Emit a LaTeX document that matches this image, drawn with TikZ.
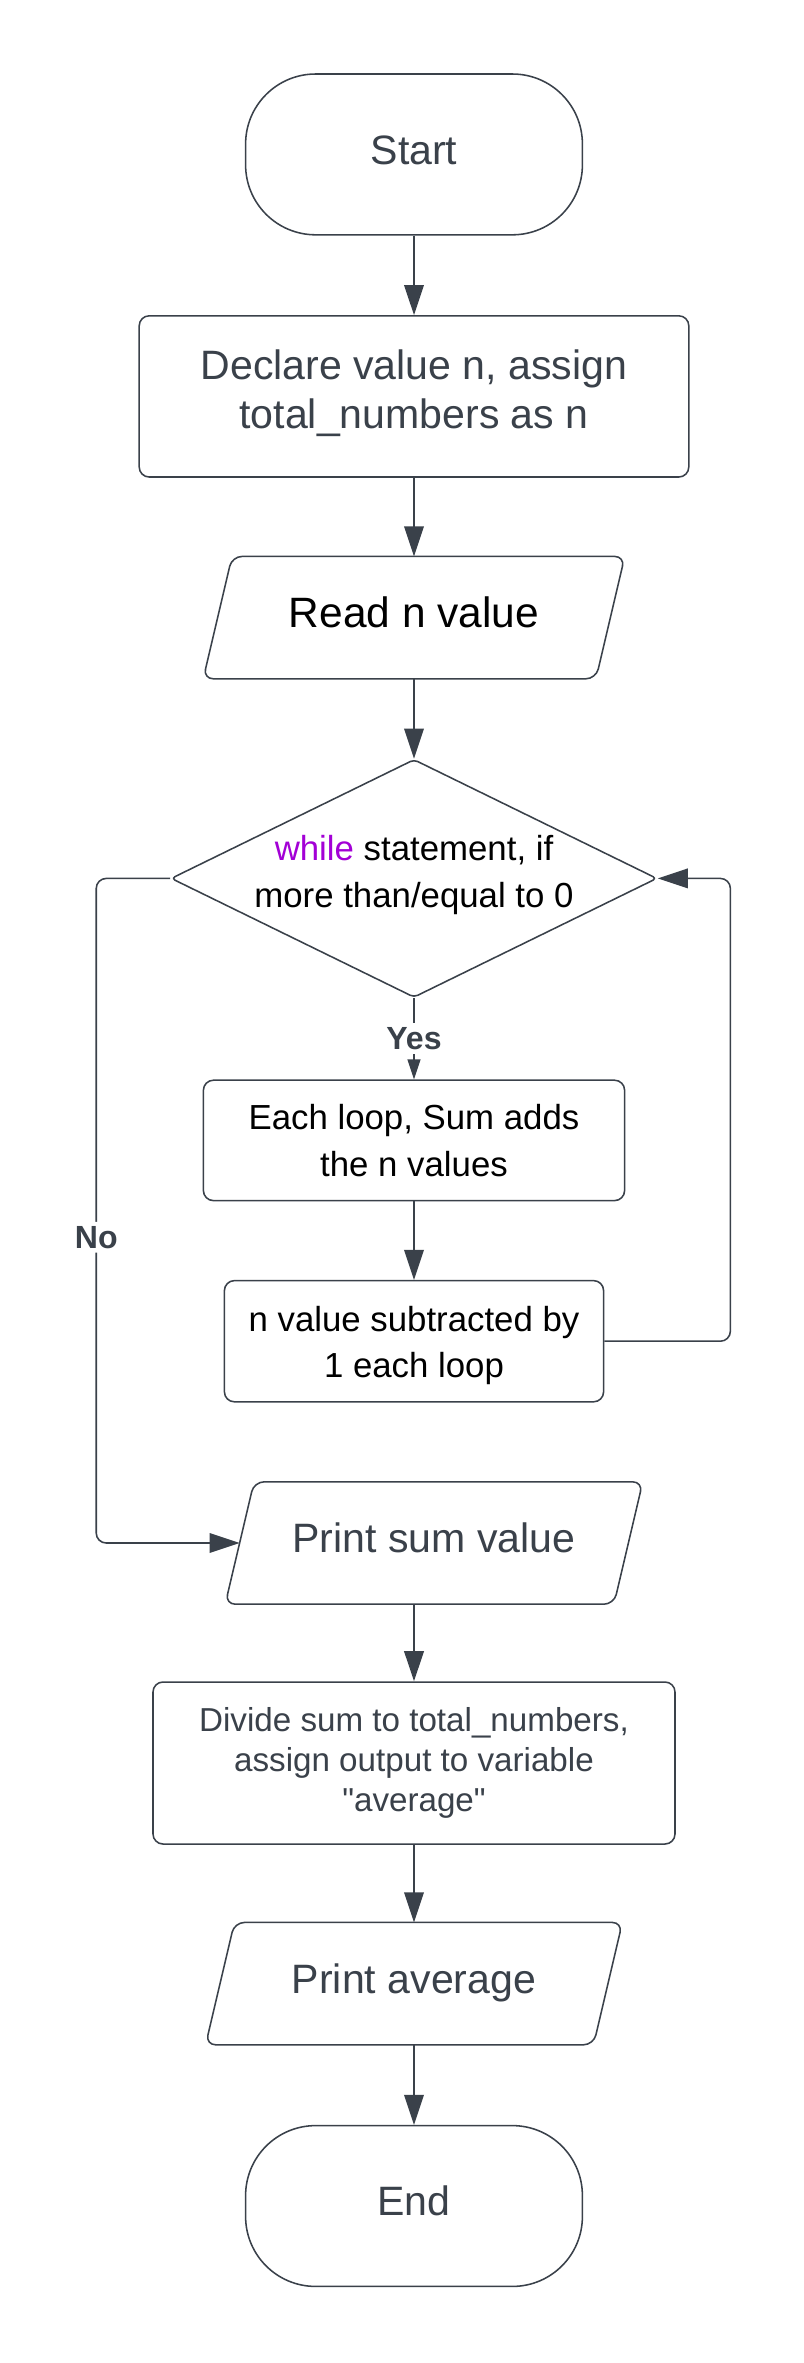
\documentclass[tikz,border=0pt]{standalone}
\usepackage{fontspec}
\setmainfont{Liberation Sans}[Ligatures=TeXOff]
\usetikzlibrary{shapes.geometric,arrows.meta}
\definecolor{ink}{HTML}{3A414A}
\definecolor{kw}{RGB}{163,0,214}

\begin{document}
\begin{tikzpicture}[line width=1.1pt,line join=round,
    base/.style={draw=ink,fill=white,align=center,inner sep=0pt},
    big/.style={font=\fontsize{29.2}{34.9}\selectfont},
    mid/.style={font=\fontsize{24.75}{33}\selectfont},
    lift/.style={execute at end node=\strut},
    term/.style={base,lift,rounded corners=1.75cm,minimum width=8.42cm,minimum height=4.02cm,text=ink,big},
    proc/.style={base,rectangle,rounded corners=0.25cm},
    io/.style={base,lift,draw=none,rectangle,minimum height=3.02cm},
    decide/.style={base,lift,diamond,rounded corners=0.1cm,shape aspect=2.04,inner xsep=-0.15cm,
      minimum width=12.15cm,minimum height=5.95cm},
    arr/.style={draw=ink,-{Triangle[length=0.75cm,width=0.49cm]}},
    lbl/.style={fill=white,text=ink,inner sep=3pt,font=\fontsize{22.8}{26}\selectfont\bfseries}]
  \fill[white] (0,0) rectangle (20.1,-59.075);
  \useasboundingbox (0,0) rectangle (20.1,-59.075);

  % main column
  \node[term] (start) at (10.35,-3.86) {Start};
  \node[proc,lift,text=ink,big,minimum width=13.74cm,minimum height=4.03cm] (decl) at (10.35,-9.91)
    {Declare value n, assign\\total\_numbers as n};
  \node[io,text=black,font=\fontsize{30.2}{36}\selectfont,minimum width=10.5cm] (read) at (10.35,-15.44)
    {Read n value};
  \node[decide,text=black,mid] (cond) at (10.35,-21.96)
    {\textcolor{kw}{while} statement, if\\more than/equal to 0};
  \node[proc,text=black,mid,minimum width=10.53cm,minimum height=3.01cm] (each) at (10.35,-28.51)
    {Each loop, Sum adds\\the n values};
  \node[proc,text=black,mid,minimum width=9.48cm,minimum height=3.03cm] (nsub) at (10.35,-33.53)
    {\rule{0pt}{0.85cm}n value subtracted by\\1 each loop};
  \node[io,text=ink,big,minimum width=10.4cm] (psum) at (10.85,-38.575) {Print sum value};
  \node[proc,text=ink,font=\fontsize{23.6}{28.45}\selectfont,minimum width=13.05cm,minimum height=4.05cm]
    (div) at (10.35,-44.075) {Divide sum to total\_numbers,\\assign output to variable\\"average"};
  \node[io,text=ink,big,minimum width=10.38cm] (pavg) at (10.35,-49.59) {Print average};
  \node[term] (stop) at (10.35,-55.15) {End};

  % slanted outlines of the input/output boxes
  \foreach \n in {read,psum,pavg}
    \draw[ink,rounded corners=0.25cm] ([xshift=0.72cm]\n.north west) -- (\n.north east)
      -- ([xshift=-0.72cm]\n.south east) -- (\n.south west) -- cycle;

  % connectors
  \draw[arr] (start) -- (decl);
  \draw[arr] (decl) -- (read);
  \draw[arr] (read) -- (cond);
  \draw[draw=ink,-{Triangle[length=0.5cm,width=0.32cm]}] (cond) -- node[lbl] {Yes} (each);
  \draw[arr] (each) -- (nsub);
  \draw[arr,rounded corners=0.25cm] (nsub.east) -- ++(3.15,0) |- (cond.east);
  \draw[arr,rounded corners=0.25cm] (cond.west) -- ++(-1.85,0) |- node[lbl,pos=0.27] {No}
    ([xshift=0.36cm]psum.west);
  \draw[arr] (div.north |- psum.south) -- (div.north);
  \draw[arr] (div) -- (pavg);
  \draw[arr] (pavg) -- (stop);
\end{tikzpicture}
\end{document}
